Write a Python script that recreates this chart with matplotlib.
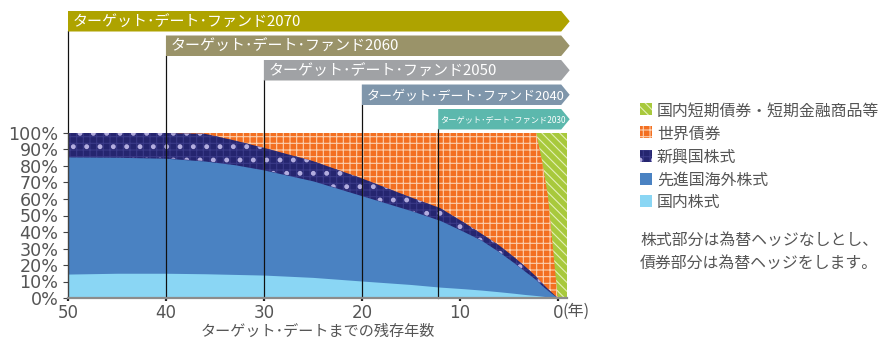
import matplotlib
matplotlib.use('Agg')
import matplotlib.pyplot as plt
import numpy as np
from matplotlib.patches import Polygon, Rectangle
from matplotlib.transforms import blended_transform_factory, offset_copy

plt.rcParams['font.family'] = ['Noto Sans CJK JP', 'DejaVu Sans']
plt.rcParams['hatch.linewidth'] = 1.0

# ---------------- data ----------------
years       = [50, 45, 40, 36, 33, 30, 25, 20, 15, 12, 9.5, 7.8, 6, 4.5, 3.3, 2.2, 1.6, 1, 0, -1]
domestic_eq = [14.5, 15, 15, 14.7, 14.3, 13.9, 12.5, 10.3, 8.2, 6.6, 5.6, 4.8, 3.8, 2.9, 2.1, 1.5, 1.1, 0.7, 0, 0]
developed_eq= [71.0, 70.3, 69.7, 68.3, 66.5, 63.7, 58.5, 51.7, 44.8, 40.4, 34.4, 30.2, 24.2, 18.6, 13.9, 9.5, 6.4, 3.8, 0, 0]
emerging_eq = [14.5, 14.7, 15.3, 16.5, 14.7, 13.4, 12.0, 10.5, 8.0, 7.5, 5.5, 4.0, 4.0, 3.5, 3.0, 2.0, 1.5, 1.0, 0, 0]
world_bonds = [0, 0, 0, 0.5, 4.5, 9.0, 17.0, 27.5, 39.0, 45.5, 54.5, 61.0, 68.0, 75.0, 81.0, 87.0, 74.0, 56.5, 0, 0]
short_term  = [0, 0, 0, 0, 0, 0, 0, 0, 0, 0, 0, 0, 0, 0, 0, 0, 17.0, 38.0, 100, 100]

asset_labels = ['国内株式', '先進国海外株式', '新興国株式', '世界債券', '国内短期債券・短期金融商品等']

fund_names = ['ターゲット･デート･ファンド2070', 'ターゲット･デート･ファンド2060',
              'ターゲット･デート･ファンド2050', 'ターゲット･デート･ファンド2040',
              'ターゲット･デート･ファンド2030']
fund_years = [50, 40, 30, 20, 12.2]

xticks = [50, 40, 30, 20, 10, 0]
xtick_labels = ['50', '40', '30', '20', '10', '0']
yticks = list(range(0, 101, 10))
ytick_labels = [f'{v}%' for v in yticks]
x_unit = '(年)'
x_title = 'ターゲット･デートまでの残存年数'
note_lines = ['株式部分は為替ヘッジなしとし、', '債券部分は為替ヘッジをします。']

# ---------------- styles ----------------
face = ['#8ad6f4', '#4a82c2', '#25256f', '#f36f21', '#a8c93c']
hatches = [None, None, '++', '++', '\\\\\\']
hcol = ['#8ad6f4', '#4a82c2', '#3a3a88', '#fbcfae', '#e4f0b8']
dot_col = '#b3addf'
fund_colors = ['#aea300', '#9a9369', '#a0a2a5', '#7f96ab', '#5cb8ad']
fund_fs = [13.5, 13.5, 13.5, 11.7, 7.4]
text_col = '#555555'

W, H, DPI = 880, 340, 80
fig = plt.figure(figsize=(W / DPI, H / DPI), dpi=DPI)
fig.patch.set_facecolor('white')

def fx(px):
    return px / W

def fy(py):
    return 1 - py / H

AX_L, AX_R, AX_T, AX_B = 68, 567, 133, 298
ax = fig.add_axes([fx(AX_L), fy(AX_B), fx(AX_R) - fx(AX_L), fy(AX_T) - fy(AX_B)])
ax.set_xlim(50, -0.95)
ax.set_ylim(0, 100)

layers = np.array([domestic_eq, developed_eq, emerging_eq, world_bonds, short_term], dtype=float)
cum = np.cumsum(layers, axis=0)
x = np.array(years, dtype=float)

# draw from top layer downward, each from 0 to its cumulative top
for i in range(4, -1, -1):
    ax.fill_between(x, 0, cum[i], facecolor=face[i], edgecolor=hcol[i],
                    hatch=hatches[i], linewidth=0, zorder=1 + (4 - i) * 0.1)
    if i == 2:
        with plt.rc_context({'hatch.linewidth': 2.0}):
            ax.fill_between(x, cum[1], cum[2], facecolor='none', edgecolor=dot_col,
                            hatch='.', linewidth=0, zorder=1 + (4 - i) * 0.1 + 0.05)

# axes styling
for s in ['top', 'right']:
    ax.spines[s].set_visible(False)
ax.spines['left'].set_color('#444444')
ax.spines['left'].set_linewidth(1)
ax.spines['bottom'].set_color('#8c8c8c')
ax.spines['bottom'].set_linewidth(2)
ax.spines['left'].set_zorder(6)
ax.spines['bottom'].set_zorder(6)

ax.set_yticks(yticks)
ax.set_yticklabels(ytick_labels, family='DejaVu Sans', fontsize=15.8, color=text_col)
ax.set_xticks(xticks)
ax.set_xticklabels(xtick_labels, family='DejaVu Sans', fontsize=15, color=text_col)
ax.tick_params(axis='y', length=4.5, width=1, color='#444444', pad=4)
ax.tick_params(axis='x', length=2.5, width=2, color='#222222', pad=3)
for lab in ax.get_yticklabels():
    lab.set_verticalalignment('center_baseline')

ax.text(0, 0, x_unit, transform=offset_copy(ax.transData, fig, x=5, y=-13, units='dots'),
        ha='left', va='center', fontsize=14.5, color=text_col)
ax.set_xlabel(x_title, fontsize=13.6, color=text_col)
ax.xaxis.label.set_verticalalignment('center')
ax.xaxis.set_label_coords((318 - AX_L) / (AX_R - AX_L), (AX_B - 331.5) / (AX_B - AX_T))

# fund banners and guide lines
blend = blended_transform_factory(ax.transData, ax.transAxes)
x_body_end = (557.5 - 561) / 9.8
x_tip = (557.5 - 569.5) / 9.8

def ax_frac(py):
    return (AX_B - py) / (AX_B - AX_T)

for k, (yr, name) in enumerate(zip(fund_years, fund_names)):
    top_py = 11 + 24.5 * k
    bot_py = top_py + 20.5
    yt, yb = ax_frac(top_py), ax_frac(bot_py)
    ym = (yt + yb) / 2
    poly = Polygon([(yr, yb), (x_body_end, yb), (x_tip, ym), (x_body_end, yt), (yr, yt)],
                   closed=True, transform=blend, facecolor=fund_colors[k],
                   edgecolor='none', clip_on=False, zorder=7)
    ax.add_patch(poly)
    ax.plot([yr, yr], [0, yb], transform=blend, color='#111111', lw=1.1,
            clip_on=False, zorder=5)
    ax.text(yr, ym, name, transform=offset_copy(blend, fig, x=5 if k < 4 else 2, y=0, units='dots'),
            ha='left', va='center_baseline', color='white', fontsize=fund_fs[k],
            zorder=8, clip_on=False)

# legend (manual)
leg_rows = [109, 132.3, 155.7, 178.5, 201]
for row, i in zip(leg_rows, [4, 3, 2, 1, 0]):
    r = Rectangle((fx(640), fy(row + 6)), 12 / W, 12 / H, transform=fig.transFigure,
                  facecolor=face[i], edgecolor=hcol[i], hatch=hatches[i], linewidth=0)
    fig.add_artist(r)
    if i == 2:
        with plt.rc_context({'hatch.linewidth': 2.0}):
            r2 = Rectangle((fx(640), fy(row + 6)), 12 / W, 12 / H, transform=fig.transFigure,
                           facecolor='none', edgecolor=dot_col, hatch='.', linewidth=0)
        fig.add_artist(r2)
    fig.text(fx(657), fy(row), asset_labels[i], ha='left', va='center_baseline',
             fontsize=14.3, color=text_col)

for j, line in enumerate(note_lines):
    fig.text(fx(640), fy(238 + 23 * j), line, ha='left', va='center_baseline',
             fontsize=14.3, color=text_col)

fig.savefig('out.png', dpi=DPI)
